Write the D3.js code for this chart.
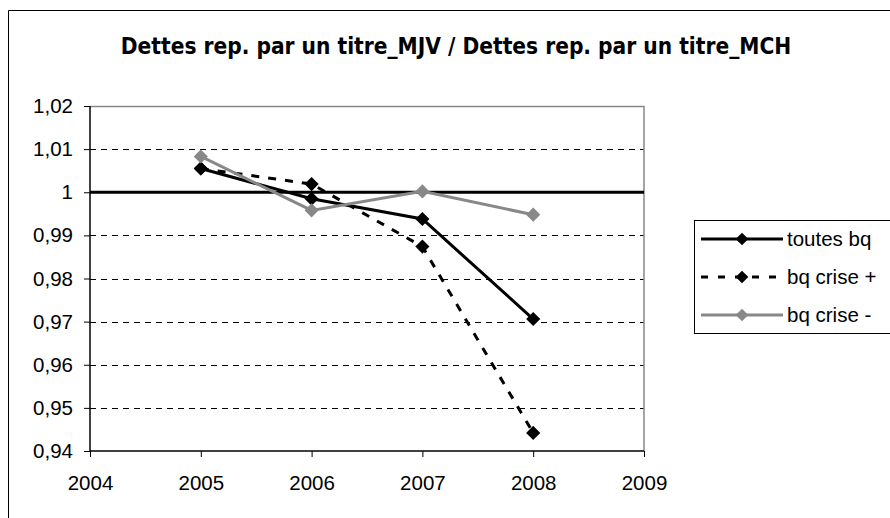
<!DOCTYPE html>
<html>
<head>
<meta charset="utf-8">
<script src="https://cdn.jsdelivr.net/npm/d3@7"></script>
<style>
  body { margin: 0; background: #fff; }
  svg { display: block; }
</style>
</head>
<body>
<svg id="chart"></svg>
<script>
// data
let years = [2005, 2006, 2007, 2008];
let toutesBq = [1.0055, 0.9985, 0.9938, 0.9706];
let bqCrisePlus = [1.0055, 1.0019, 0.9874, 0.9442];
let bqCriseMoins = [1.0083, 0.9958, 1.0002, 0.9948];
let yTicks = [0.94, 0.95, 0.96, 0.97, 0.98, 0.99, 1, 1.01, 1.02];
let xTicks = [2004, 2005, 2006, 2007, 2008, 2009];

let series = [
  {name: 'toutes bq', values: toutesBq, color: '#000', dash: null},
  {name: 'bq crise +', values: bqCrisePlus, color: '#000', dash: '8,9'},
  {name: 'bq crise -', values: bqCriseMoins, color: '#888', dash: null}
];

let width = 890, height = 518;
let svg = d3.select('#chart').attr('width', width).attr('height', height);

// outer frame (right and bottom edges fall outside the picture)
svg.append('path')
  .attr('d', 'M8.5,' + height + 'V10.5H' + width)
  .attr('fill', 'none').attr('stroke', '#000').attr('stroke-width', 1);

svg.append('text')
  .attr('x', 456).attr('y', 54)
  .attr('text-anchor', 'middle')
  .attr('font-family', 'DejaVu Sans Condensed, DejaVu Sans')
  .attr('font-weight', 'bold')
  .attr('font-size', 22.5)
  .text('Dettes rep. par un titre_MJV / Dettes rep. par un titre_MCH');

let x = d3.scaleLinear().domain([2004, 2009]).range([90, 644]);
let y = d3.scaleLinear().domain([0.94, 1.02]).range([451, 106]);

// dashed gridlines
svg.append('g').selectAll('line')
  .data(yTicks.filter(d => d !== 0.94 && d !== 1 && d !== 1.02))
  .enter().append('line')
  .attr('x1', x(2004)).attr('x2', x(2009))
  .attr('y1', d => Math.round(y(d)) + 0.5).attr('y2', d => Math.round(y(d)) + 0.5)
  .attr('stroke', '#000').attr('stroke-width', 1)
  .attr('stroke-dasharray', '6,5');

// plot area top / right border in gray
svg.append('path')
  .attr('d', 'M' + x(2004) + ',' + (Math.round(y(1.02)) + 0.5) + 'H' + x(2009) + 'V' + y(0.94))
  .attr('fill', 'none').attr('stroke', '#888').attr('stroke-width', 1.5);

// reference line at 1
svg.append('line')
  .attr('x1', x(2004)).attr('x2', x(2009))
  .attr('y1', y(1)).attr('y2', y(1))
  .attr('stroke', '#000').attr('stroke-width', 3);

let fmt = d => d3.format('.2f')(d).replace('.', ',').replace(/,00$/, '');

let yAxis = svg.append('g')
  .attr('transform', 'translate(' + x(2004) + ',0)')
  .call(d3.axisLeft(y).tickValues(yTicks).tickFormat(fmt).tickSize(6).tickPadding(11));
let xAxis = svg.append('g')
  .attr('transform', 'translate(0,' + y(0.94) + ')')
  .call(d3.axisBottom(x).tickValues(xTicks).tickFormat(d3.format('d')).tickSize(6).tickPadding(18));

[yAxis, xAxis].forEach(a => {
  a.select('.domain').attr('stroke', '#000').attr('stroke-width', 1.5);
  a.selectAll('.tick line').attr('stroke', '#000');
  a.selectAll('text')
    .attr('font-family', 'Liberation Sans, Arial, sans-serif')
    .attr('font-size', 20.5).attr('fill', '#000');
});
xAxis.select('.domain').attr('d', 'M' + x(2004) + ',0H' + x(2009));
yAxis.select('.domain').attr('d', 'M0,' + y(0.94) + 'V' + y(1.02));

let line = d3.line().x((d, i) => x(years[i])).y(d => y(d));
// square turned 45 degrees, like the original markers
let diamond = d3.symbol().type(d3.symbolSquare).size(100);

series.forEach(s => {
  let g = svg.append('g');
  g.append('path')
    .attr('d', line(s.values))
    .attr('fill', 'none').attr('stroke', s.color).attr('stroke-width', 3)
    .attr('stroke-dasharray', s.dash);
  g.selectAll('path.pt')
    .data(s.values).enter().append('path')
    .attr('class', 'pt')
    .attr('d', diamond)
    .attr('transform', (d, i) => 'translate(' + x(years[i]) + ',' + y(d) + ') rotate(45)')
    .attr('fill', s.color);
});

// legend
let legend = svg.append('g');
legend.append('rect')
  .attr('x', 694.5).attr('y', 220.5).attr('width', 200).attr('height', 113)
  .attr('fill', '#fff').attr('stroke', '#000').attr('stroke-width', 1);
let legendSym = d3.symbol().type(d3.symbolSquare).size(80);
series.forEach((s, i) => {
  let ly = 239 + i * 38;
  legend.append('line')
    .attr('x1', 701).attr('x2', 783).attr('y1', ly).attr('y2', ly)
    .attr('stroke', s.color).attr('stroke-width', 3)
    .attr('stroke-dasharray', s.dash ? '7,10' : null);
  legend.append('path')
    .attr('d', legendSym)
    .attr('transform', 'translate(742,' + ly + ') rotate(45)')
    .attr('fill', s.color);
  legend.append('text')
    .attr('x', 787).attr('y', ly + 7)
    .attr('font-family', 'Liberation Sans, Arial, sans-serif')
    .attr('font-size', 20.5)
    .text(s.name);
});
</script>
</body>
</html>
